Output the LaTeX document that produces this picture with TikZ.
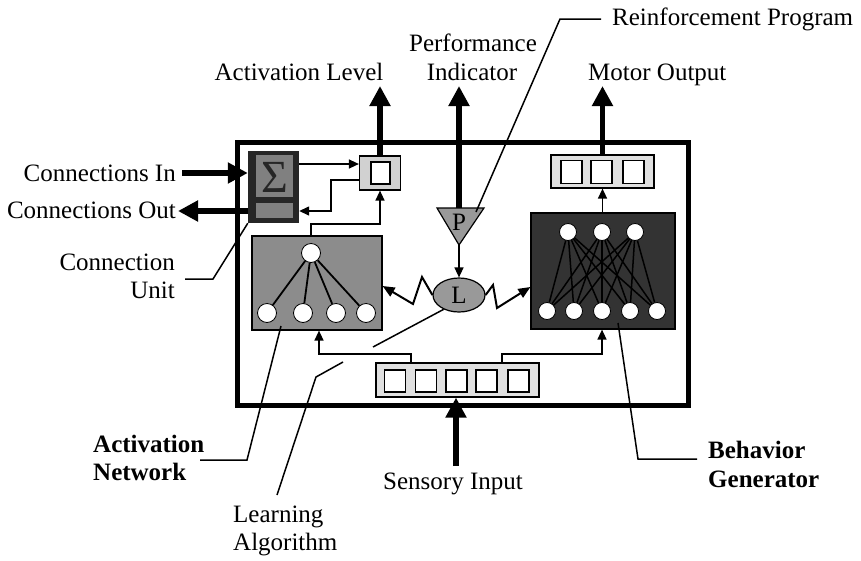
\documentclass[tikz,border=0pt]{standalone}
\usepackage{fontspec}
\setmainfont{Liberation Serif}
\usetikzlibrary{arrows.meta,shapes.geometric,calc}
\begin{document}
\begin{tikzpicture}[x=1pt,y=-1pt,
  thickarrow/.style={line width=5.5pt,-{Triangle[length=20pt,width=20pt]}},
  thinarrow/.style={line width=1.4pt,-{Triangle[length=10pt,width=9pt]}},
  zigarrow/.style={line width=2pt,-{Triangle[length=12pt,width=10pt]}},
  leader/.style={line width=1.5pt},
  lbl/.style={font=\fontsize{25}{29}\selectfont, inner sep=0pt},
  blbl/.style={font=\fontsize{25}{29}\selectfont\bfseries, inner sep=0pt},
  cell/.style={draw, line width=1.8pt, fill=white, minimum width=21pt, minimum height=22pt, inner sep=0pt},
  neuron/.style={circle, fill=white, draw=black, line width=0.8pt, minimum size=19pt, inner sep=0pt},
  bneuron/.style={circle, fill=white, draw=black, line width=0.8pt, minimum size=17pt, inner sep=0pt},
  panel/.style={draw, line width=1.2pt, inner sep=0pt},
]
\useasboundingbox (0,0) rectangle (861,560);

% outer frame
\node (frame) [draw, line width=5pt, minimum width=451pt, minimum height=263pt, inner sep=0pt] at (462.5,273.5) {};

% connection unit
\node (cu) [fill=black!85, minimum width=51pt, minimum height=72pt, inner sep=0pt] at (273.5,187) {};
\node (sig) [fill=black!50, minimum width=37pt, minimum height=42pt, inner sep=0pt] at (274.5,176) {};
\node (sigtxt) [inner sep=0pt, text=black!85, font=\fontsize{46}{48}\selectfont] at (274.5,177) {Σ};
\node (cubar) [fill=black!50, minimum width=37pt, minimum height=15pt, inner sep=0pt] at (274.5,210.5) {};

% activation level box
\node (actlev) [panel, fill=black!18, minimum width=41pt, minimum height=34pt] at (380,173) {};
\node (actcell) [draw, line width=2pt, fill=white, minimum width=19pt, minimum height=22pt, inner sep=0pt] at (380,173) {};

% motor output box
\node (motor) [panel, fill=black!12, minimum width=103pt, minimum height=33pt] at (602.5,171.5) {};
\node (m1) [cell, minimum height=23pt] at (571.5,172) {};
\node (m2) [cell, minimum height=23pt] at (601.5,172) {};
\node (m3) [cell, minimum height=23pt] at (633.5,172) {};

% sensory input box
\node (sens) [panel, fill=black!12, minimum width=163pt, minimum height=34pt] at (457.5,380) {};
\node (s1) [cell] at (395,381) {};
\node (s2) [cell] at (426,381) {};
\node (s3) [cell] at (456.5,381) {};
\node (s4) [cell] at (486.5,381) {};
\node (s5) [cell] at (518.5,381) {};

% activation network
\node (net) [panel, fill=black!45, minimum width=130pt, minimum height=94pt] at (317,283) {};
\node (a0) [neuron] at (311,253) {};
\node (a1) [neuron] at (267,313) {};
\node (a2) [neuron] at (303,313) {};
\node (a3) [neuron] at (336,313) {};
\node (a4) [neuron] at (366,313) {};
\foreach \i in {1,2,3,4} \draw[line width=1.8pt] (a0) -- (a\i);

% behavior generator
\node (beh) [panel, fill=black!80, minimum width=144pt, minimum height=116pt] at (603,271) {};
\node (t1) [bneuron] at (568,232) {};
\node (t2) [bneuron] at (602,232) {};
\node (t3) [bneuron] at (635,232) {};
\node (b1) [bneuron] at (547,311) {};
\node (b2) [bneuron] at (574,311) {};
\node (b3) [bneuron] at (602,311) {};
\node (b4) [bneuron] at (630,311) {};
\node (b5) [bneuron] at (657,311) {};
\foreach \t in {1,2,3} \foreach \b in {1,2,3,4,5} \draw[line width=1.5pt, black] (t\t) -- (b\b);

% P triangle and L ellipse
\coordinate (Ptop) at (459,208);
\coordinate (Ptip) at (459,245);
\draw[line width=1.2pt, fill=black!40] (437,208) -- (484,208) -- (Ptip) -- cycle;
\node (P) [lbl] at (459,222) {P};
\node (L) [ellipse, draw, line width=1.2pt, fill=black!40, minimum width=52pt, minimum height=34pt, inner sep=0pt, font=\fontsize{25}{29}\selectfont] at (459,295) {L};

% coordinates for free ends
\coordinate (cin) at (182,173);
\coordinate (cout) at (178,211);
\coordinate (alout) at (380,86);
\coordinate (piout) at (459,86);
\coordinate (moout) at (602.5,86);
\coordinate (sin) at (456,466);

% thick arrows
\draw[thickarrow] (cin) -- (cin -| cu.west);
\draw[thickarrow] (cout -| cu.west) -- (cout);
\draw[thickarrow] (actlev.north) -- (alout);
\draw[thickarrow] (Ptop) -- (piout);
\draw[thickarrow] (motor.north) -- (moout);
\draw[thickarrow] (sin) -- (sin |- sens.south);

% thin connectors
\coordinate (a1c) at ([yshift=9pt]actlev.west);
\coordinate (a2c) at ([yshift=-7pt]actlev.west);
\draw[thinarrow] (cu.east |- a1c) -- (a1c);
\draw[thinarrow] (a2c) -- (331,180) -- (331,211) -- (cu.east |- 0,211);
\draw[thinarrow] (a0 |- net.north) |- (380,224) -- (actlev.south);
\draw[thinarrow] (beh.north -| motor.south) -- (motor.south);
\draw[thinarrow] (Ptip) -- (L.north);
\draw[thinarrow] (411,0 |- sens.north) -- (411,354) -| (319,0 |- net.south);
\draw[thinarrow] (502,0 |- sens.north) -- (502,354) -| (602,0 |- beh.south);

% zigzags
\draw[zigarrow] (L.west) -- (422,277) -- (413,304) -- (net.east |- 0,286);
\draw[zigarrow] (L.east) -- (493,285) -- (497,308) -- (beh.west |- 0,287);

% leaders
\draw[leader] (476,212) -- (560,19) -- (601,19);
\draw[leader] (185,279) -- (213,279) -- (cu.south west);
\draw[leader] (200,460) -- (247,460) -- (281,326);
\draw[leader] (L.223) -- (373,347);
\draw[leader] (343,362) -- (316,377) -- (277,495);
\draw[leader] (697,459) -- (638,459) -- (618,323);

% labels
\node (tal) [lbl, anchor=base] at (299,80) {Activation Level};
\node (tpi1) [lbl, anchor=base] at (473,51) {Performance};
\node (tpi2) [lbl, anchor=base] at (472,80) {Indicator};
\node (trp) [lbl, anchor=base west] at (612,25) {Reinforcement Program};
\node (tmo) [lbl, anchor=base west] at (588,80) {Motor Output};
\node (tcin) [lbl, anchor=base east] at (176,181) {Connections In};
\node (tcout) [lbl, anchor=base east] at (176,218) {Connections Out};
\node (tcu1) [lbl, anchor=base east] at (175,270) {Connection};
\node (tcu2) [lbl, anchor=base east] at (175,298) {Unit};
\node (tan1) [blbl, anchor=base west] at (93,452) {Activation};
\node (tan2) [blbl, anchor=base west] at (93,480) {Network};
\node (tsi) [lbl, anchor=base west] at (383,489) {Sensory Input};
\node (tla1) [lbl, anchor=base west] at (233,522) {Learning};
\node (tla2) [lbl, anchor=base west] at (233,550) {Algorithm};
\node (tbg1) [blbl, anchor=base west] at (708,458) {Behavior};
\node (tbg2) [blbl, anchor=base west] at (708,487) {Generator};
\end{tikzpicture}
\end{document}
